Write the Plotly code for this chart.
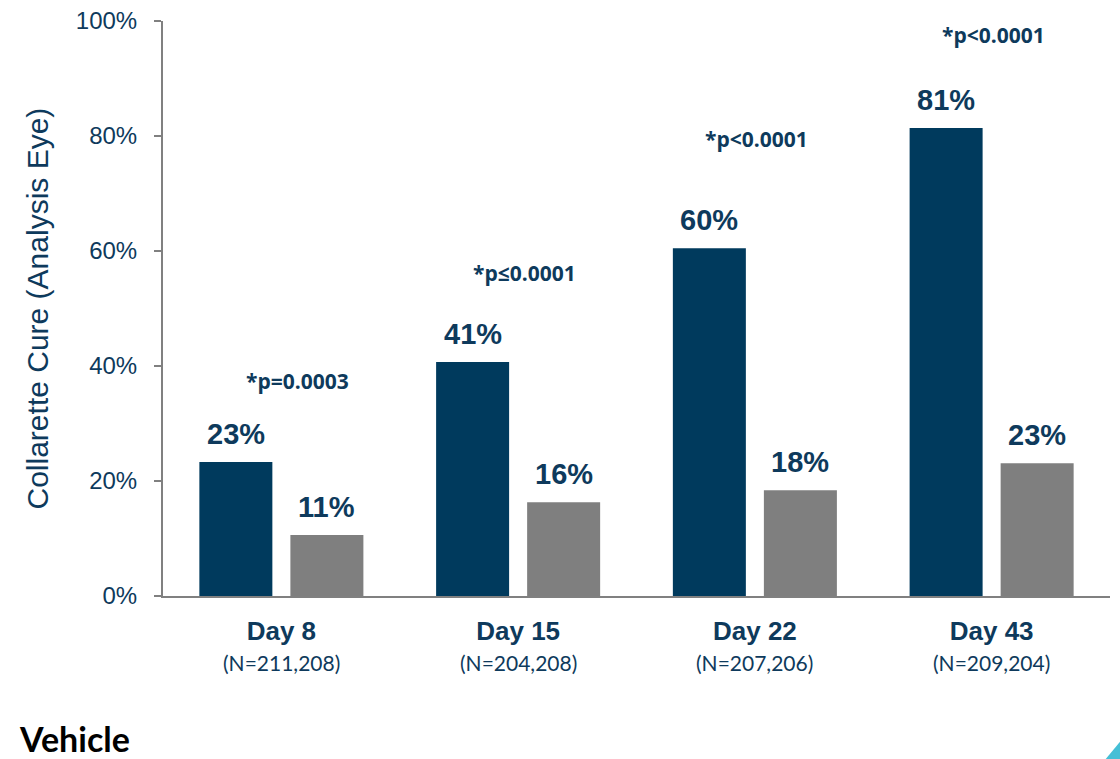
import plotly.graph_objects as go

# ---- data ----
categories = ["Day 8", "Day 15", "Day 22", "Day 43"]
n_labels = ["(N=211,208)", "(N=204,208)", "(N=207,206)", "(N=209,204)"]
treated_values = [23.3, 40.7, 60.5, 81.4]
treated_labels = ["23%", "41%", "60%", "81%"]
vehicle_values = [10.6, 16.3, 18.4, 23.1]
vehicle_labels = ["11%", "16%", "18%", "23%"]
p_labels = ["*p=0.0003", "*p\u22640.0001", "*p<0.0001", "*p<0.0001"]
p_heights = [37.4, 56.2, 79.5, 97.6]
y_ticks = [0, 20, 40, 60, 80, 100]

NAVY = "#003a5d"
GREY = "#7f7f7f"
TEXT = "#0e3a5c"
ARIAL = "Liberation Sans, Arial, sans-serif"
CAL = "Lato, Carlito, Calibri, sans-serif"
OPEN = "Open Sans, Noto Sans, sans-serif"

fig = go.Figure()
fig.add_trace(go.Bar(x=categories, y=treated_values, marker=dict(color=NAVY, line_width=0),
                     name="Treated", showlegend=False, hoverinfo="skip"))
fig.add_trace(go.Bar(x=categories, y=vehicle_values, marker=dict(color=GREY, line_width=0),
                     name="Vehicle", showlegend=False, hoverinfo="skip"))

annotations = []
for cat, v, lab in zip(categories, treated_values, treated_labels):
    annotations.append(dict(x=cat, y=v, xref="x", yref="y", text=lab, showarrow=False,
                            xshift=-45.5, yshift=28, yanchor="middle",
                            font=dict(family=ARIAL, size=29, color=TEXT, weight="bold")))
for cat, v, lab in zip(categories, vehicle_values, vehicle_labels):
    annotations.append(dict(x=cat, y=v, xref="x", yref="y", text=lab, showarrow=False,
                            xshift=45.5, yshift=28, yanchor="middle",
                            font=dict(family=ARIAL, size=29, color=TEXT, weight="bold")))
for i, (cat, lab, h) in enumerate(zip(categories, p_labels, p_heights)):
    annotations.append(dict(x=cat, y=h, xref="x", yref="y", text="<b>" + lab + "</b>",
                            showarrow=False, xshift=[16, 6, 2, 2][i], yanchor="middle",
                            font=dict(family=OPEN, size=21, color=TEXT)))
for cat, lab in zip(categories, n_labels):
    annotations.append(dict(x=cat, y=-0.1165, xref="x", yref="paper", text=lab,
                            showarrow=False, yanchor="middle",
                            font=dict(family=CAL, size=21, color=TEXT)))
annotations.append(dict(x=-0.033, y=-0.248, xref="paper", yref="paper", text="<b>Vehicle</b>",
                        showarrow=False, xanchor="right", yanchor="middle",
                        font=dict(family=CAL, size=34, color="#000000")))
annotations.append(dict(x=-0.132, y=0.5, xref="paper", yref="paper",
                        text="Collarette Cure (Analysis Eye)", textangle=-90, showarrow=False,
                        xanchor="center", yanchor="middle",
                        font=dict(family=ARIAL, size=30, color=TEXT)))

fig.update_layout(
    width=1120, height=759,
    margin=dict(l=163, r=10, t=21, b=163, autoexpand=False),
    paper_bgcolor="white", plot_bgcolor="white",
    barmode="group", bargap=0.231, bargroupgap=0.198,
    annotations=annotations,
    shapes=[dict(type="path", xref="paper", yref="paper",
                 path="M 1.0137 -0.2835 L 1.0137 -0.247 L 0.9955 -0.2835 Z",
                 fillcolor="#45bfd6", line_width=0, layer="above")],
)
fig.update_xaxes(
    showline=True, linecolor="#808080", linewidth=2,
    ticks="", showgrid=False,
    tickfont=dict(family=ARIAL, size=26, color=TEXT, weight="bold"),
    ticklabelstandoff=11,
)
fig.update_yaxes(
    range=[0, 100], tickvals=y_ticks, ticktext=[f"{t}%" for t in y_ticks],
    showline=True, linecolor="#808080", linewidth=2,
    ticks="outside", ticklen=7, tickwidth=2, tickcolor="#808080",
    showgrid=False, zeroline=False,
    tickfont=dict(family=ARIAL, size=24, color=TEXT),
    ticklabelstandoff=12,
)
fig.write_html("out.html", config={"displayModeBar": False},
               post_script="document.body.style.margin='0';document.body.style.overflow='hidden';")
